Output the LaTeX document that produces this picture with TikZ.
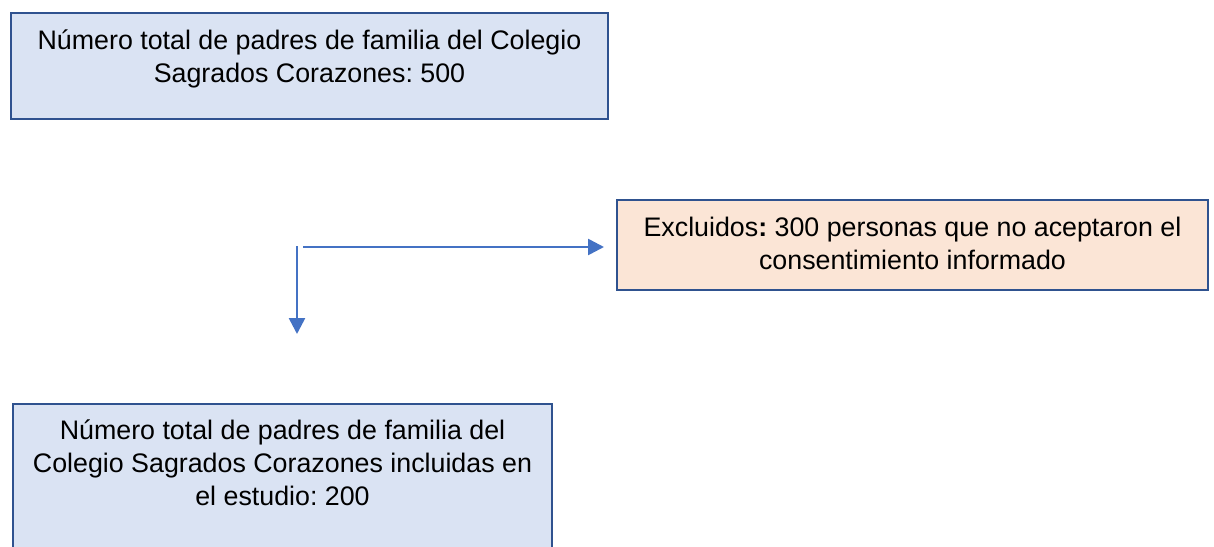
\documentclass[tikz,border=0pt]{standalone}
\usepackage{fontspec}
\setmainfont{Liberation Sans}
\usetikzlibrary{arrows.meta}
\definecolor{bordblue}{HTML}{2F528F}
\definecolor{lineblue}{HTML}{4472C4}
\definecolor{fillblue}{HTML}{DAE3F3}
\definecolor{fillorange}{HTML}{FBE5D6}
\frenchspacing
\tikzset{
  boxstyle/.style={draw=bordblue, line width=2pt, rectangle, inner sep=0pt, anchor=north west},
  txtstyle/.style={anchor=north, align=center, inner sep=0pt, font=\fontsize{26.8}{33}\selectfont},
  conn/.style={draw=lineblue, line width=2.6pt, -{Triangle[length=16pt,width=16pt]}}
}
\begin{document}
\begin{tikzpicture}[x=1pt,y=-1pt]
\useasboundingbox (0,0) rectangle (1214,546);
\clip (0,0) rectangle (1214,546);
% box 1
\node[boxstyle, fill=fillblue, minimum width=597pt, minimum height=106pt] (total) at (10,12) {};
\node[txtstyle] (totaltxt) at ([yshift=-18pt]total.north) {Número total de padres de familia del Colegio\\Sagrados Corazones: 500};
% box 2
\node[boxstyle, fill=fillorange, minimum width=591pt, minimum height=90pt] (excl) at (616,199) {};
\node[txtstyle] (excltxt) at ([yshift=-18pt]excl.north) {Excluidos\textbf{:} 300 personas que no aceptaron el\\consentimiento informado};
% box 3
\node[boxstyle, fill=fillblue, minimum width=539pt, minimum height=170pt] (incl) at (12,403) {};
\node[txtstyle] (incltxt) at ([yshift=-17pt]incl.north) {Número total de padres de familia del\\Colegio Sagrados Corazones incluidas en\\el estudio: 200};
% connectors
\coordinate (hstart) at (303,247);
\coordinate (vstart) at (297,246);
\coordinate (vend) at (297,334);
\draw[conn] (hstart) -- ([xshift=-12pt]excl.west |- hstart);
\draw[conn] (vstart) -- (vend);
\end{tikzpicture}
\end{document}
